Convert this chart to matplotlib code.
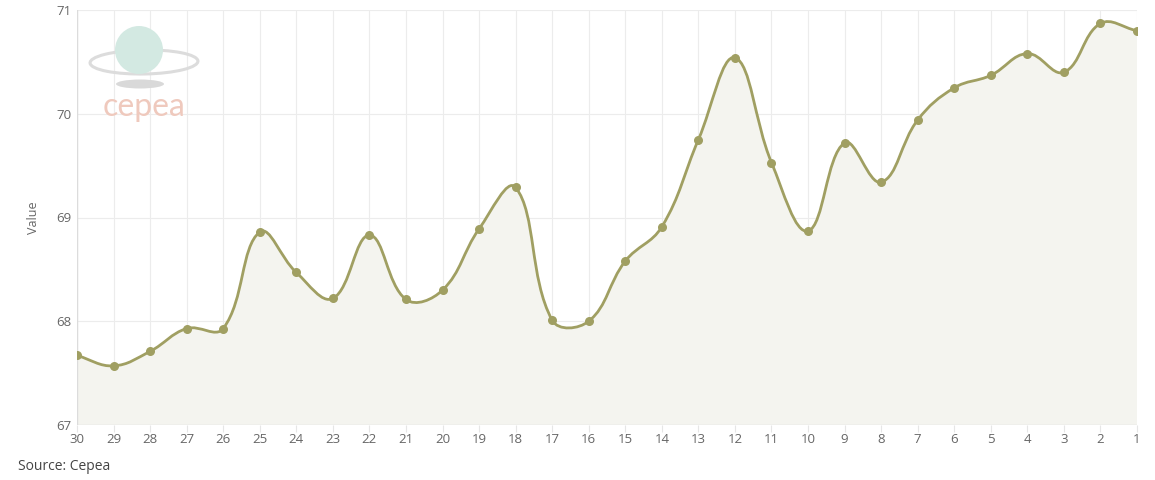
import numpy as np
import matplotlib.pyplot as plt
from matplotlib.path import Path
from matplotlib.patches import PathPatch, Ellipse

plt.rcParams['font.family'] = ['Open Sans', 'DejaVu Sans']

days = [str(d) for d in range(30, 0, -1)]
values = [67.67, 67.57, 67.71, 67.93, 67.93, 68.86, 68.47, 68.22, 68.83, 68.21,
          68.30, 68.89, 69.29, 68.01, 68.00, 68.58, 68.91, 69.75, 70.54, 69.53,
          68.87, 69.72, 69.34, 69.94, 70.25, 70.37, 70.58, 70.40, 70.87, 70.80]
yticks = [67, 68, 69, 70, 71]

line_col = '#a09f62'
grey = '#666666'
W, H = 1155, 480

fig = plt.figure(figsize=(11.55, 4.8), dpi=100)
ax = fig.add_axes([77/W, 1-425/H, (1137-77)/W, (425-10)/H])

x = np.arange(len(values))
y = np.array(values)

# chart.js style spline (tension 0.4), control points computed in pixel space
sx, sy = 36.55, 103.75
px, py = x * sx, y * sy
tension = 0.4
cps = []
for i in range(len(px)):
    p0 = (px[max(i-1, 0)], py[max(i-1, 0)])
    p1 = (px[i], py[i])
    p2 = (px[min(i+1, len(px)-1)], py[min(i+1, len(py)-1)])
    d01 = np.hypot(p1[0]-p0[0], p1[1]-p0[1])
    d12 = np.hypot(p2[0]-p1[0], p2[1]-p1[1])
    tot = d01 + d12
    s01 = d01 / tot if tot else 0
    s12 = d12 / tot if tot else 0
    fa, fb = tension * s01, tension * s12
    prev_cp = (p1[0] - fa*(p2[0]-p0[0]), p1[1] - fa*(p2[1]-p0[1]))
    next_cp = (p1[0] + fb*(p2[0]-p0[0]), p1[1] + fb*(p2[1]-p0[1]))
    cps.append((prev_cp, next_cp))

verts = [(x[0], y[0])]
codes = [Path.MOVETO]
for i in range(1, len(x)):
    c1 = cps[i-1][1]
    c2 = cps[i][0]
    verts += [(c1[0]/sx, c1[1]/sy), (c2[0]/sx, c2[1]/sy), (x[i], y[i])]
    codes += [Path.CURVE4] * 3

line_path = Path(verts, codes)
fill_verts = verts + [(x[-1], 67), (x[0], 67), (x[0], y[0])]
fill_codes = codes + [Path.LINETO, Path.LINETO, Path.CLOSEPOLY]
ax.add_patch(PathPatch(Path(fill_verts, fill_codes), facecolor='#f4f4ef',
                       edgecolor='none', zorder=1))
ax.add_patch(PathPatch(line_path, facecolor='none', edgecolor=line_col,
                       lw=2, zorder=3))
ax.scatter(x, y, s=30, color=line_col, zorder=4)

ax.set_xlim(0, len(x)-1)
ax.set_ylim(67, 71)
ax.set_xticks(x)
ax.set_xticklabels(days)
ax.set_yticks(yticks)
ax.tick_params(colors=grey, labelsize=9.5, length=0, pad=4)
ax.tick_params(axis='x', length=5, color='#e6e6e6', pad=1)
ax.grid(True, color='#ececec', lw=0.8, zorder=0)
ax.set_axisbelow(True)
for s in ax.spines.values():
    s.set_visible(False)
ax.axvline(0, color='#dcdcdc', lw=1, zorder=2)
ax.axhline(67, color='#dcdcdc', lw=1, zorder=2)
ax.set_ylabel('Value', color=grey, fontsize=9, labelpad=12)

# logo (approximation)
def px_ellipse(cx, cy, w, h, **kw):
    return Ellipse((cx/W, 1-cy/H), w/W, h/H, transform=fig.transFigure, **kw)

fig.patches.append(px_ellipse(140, 84, 48, 9, facecolor='#d9d9d9', edgecolor='none'))
fig.patches.append(px_ellipse(144, 62, 108, 24, angle=3, facecolor='none',
                              edgecolor='#dcdcdc', lw=2.2))
fig.patches.append(px_ellipse(139, 50, 48, 48, facecolor='#d3e9e2', edgecolor='none'))
fig.text(144/W, 1-107/H, 'cepea', color='#efc9bd', fontsize=23,
         ha='center', va='center', family=['Lato', 'DejaVu Sans'])

fig.text(18/W, 1-466/H, 'Source: Cepea', color='#444444', fontsize=10, va='center')

fig.savefig('out.png', dpi=100)
